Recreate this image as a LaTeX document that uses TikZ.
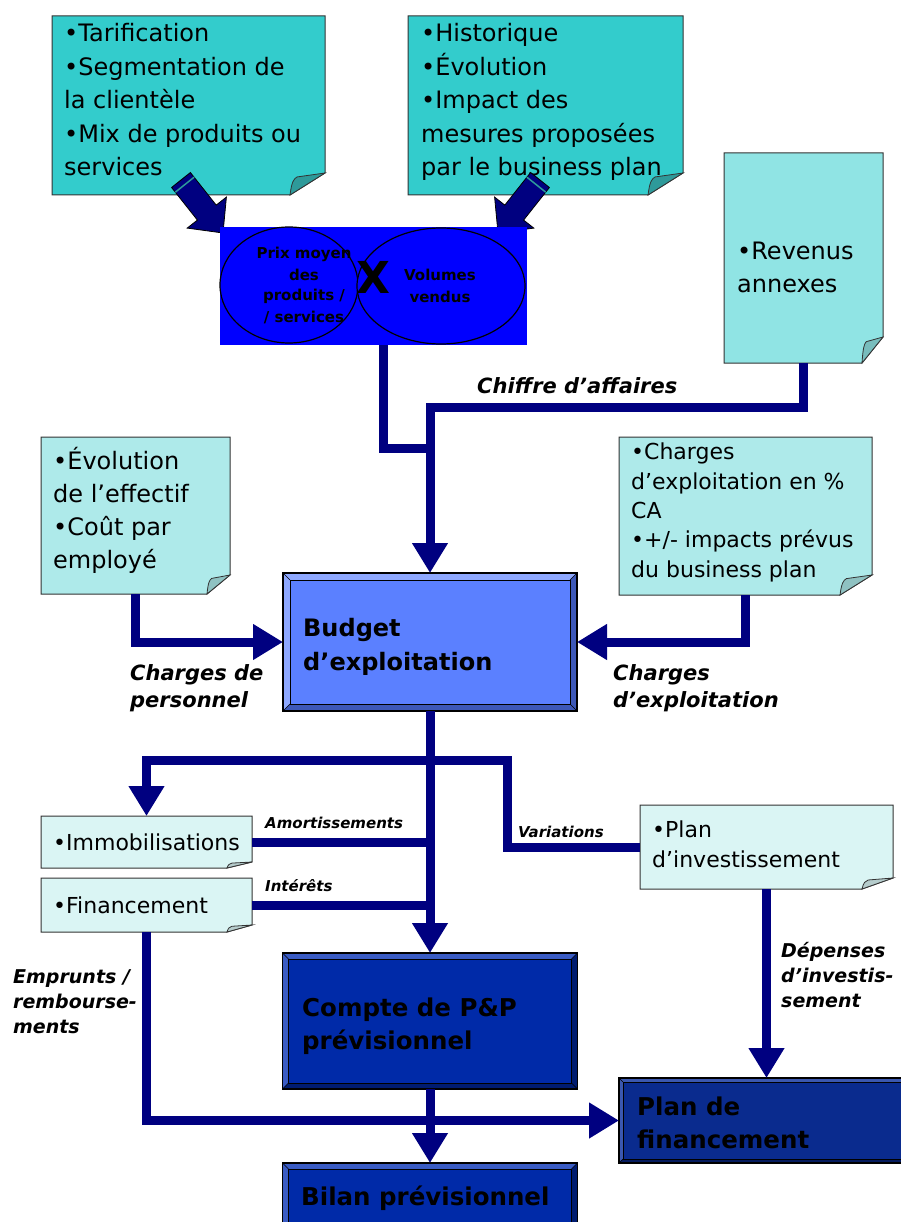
\documentclass[tikz,border=0pt]{standalone}
\usepackage{fontspec}
\setmainfont{DejaVu Sans}
\usetikzlibrary{arrows.meta}
\definecolor{navy}{HTML}{000080}
\definecolor{tealA}{HTML}{33CCCC}
\definecolor{tealAf}{HTML}{2E9A9A}
\definecolor{tealB}{HTML}{90E4E4}
\definecolor{tealBf}{HTML}{78BDBD}
\definecolor{tealC}{HTML}{AEEAEA}
\definecolor{tealCf}{HTML}{8FC2C2}
\definecolor{tealD}{HTML}{DAF5F4}
\definecolor{tealDf}{HTML}{B5CCCC}
\definecolor{pvblue}{HTML}{0000FF}
\definecolor{budgetfill}{HTML}{5B80FF}
\definecolor{budgetlt}{HTML}{8EA8FF}
\definecolor{budgetdk}{HTML}{3D58B8}
\definecolor{comptefill}{HTML}{002AA8}
\definecolor{comptelt}{HTML}{3A5CC4}
\definecolor{comptedk}{HTML}{001C70}
\definecolor{pfinfill}{HTML}{0A2B8E}
\definecolor{pfinlt}{HTML}{3B58B0}
\definecolor{pfindk}{HTML}{061C5E}

\newcommand\notebg[5]{%
  \filldraw[fill=#2, draw=black!80, line width=1pt]
    (#1.north west) -- (#1.north east) -- ([yshift=#5pt]#1.south east)
    -- ([xshift=-#4pt]#1.south east) -- (#1.south west) -- cycle;
  \filldraw[fill=#3, draw=black!80, line width=0.8pt]
    ([xshift=-#4pt]#1.south east) .. controls +(0.05*#4,-0.6*#5) and +(-0.1*#4,0.1*#5) .. ++(0.2*#4,-0.82*#5)
    -- ([yshift=#5pt]#1.south east) -- cycle;
}
\newcommand\bevel[4]{%
  \fill[#2] (#1.north west) -- (#1.north east) -- ([xshift=-#4pt,yshift=-#4pt]#1.north east) -- ([xshift=#4pt,yshift=-#4pt]#1.north west) -- cycle;
  \fill[#2] (#1.north west) -- ([xshift=#4pt,yshift=-#4pt]#1.north west) -- ([xshift=#4pt,yshift=#4pt]#1.south west) -- (#1.south west) -- cycle;
  \fill[#3] (#1.north east) -- (#1.south east) -- ([xshift=-#4pt,yshift=#4pt]#1.south east) -- ([xshift=-#4pt,yshift=-#4pt]#1.north east) -- cycle;
  \fill[#3] (#1.south west) -- (#1.south east) -- ([xshift=-#4pt,yshift=#4pt]#1.south east) -- ([xshift=#4pt,yshift=#4pt]#1.south west) -- cycle;
  \draw[line width=0.6pt] ([xshift=#4pt,yshift=-#4pt]#1.north west) rectangle ([xshift=-#4pt,yshift=#4pt]#1.south east);
  \draw[line width=0.6pt] (#1.north west) -- ([xshift=#4pt,yshift=-#4pt]#1.north west)
    (#1.north east) -- ([xshift=-#4pt,yshift=-#4pt]#1.north east)
    (#1.south west) -- ([xshift=#4pt,yshift=#4pt]#1.south west)
    (#1.south east) -- ([xshift=-#4pt,yshift=#4pt]#1.south east);
  \draw[line width=1.4pt] (#1.north west) rectangle (#1.south east);
}

\tikzset{
  anchorbox/.style={rectangle, inner sep=0pt, outer sep=0pt},
  conn/.style={draw=navy, line width=9pt},
  arr/.style={-{Triangle[length=30pt,width=34pt]}},
  bigtext/.style={anchor=base west, align=left, inner sep=0pt, font=\fontsize{24}{33.5}\selectfont},
  midtext/.style={anchor=base west, align=left, inner sep=0pt, font=\fontsize{22}{29.3}\selectfont},
  boxtext/.style={anchor=base west, align=left, inner sep=0pt, font=\bfseries\fontsize{24.5}{33.5}\selectfont},
  lbl/.style={anchor=base west, align=left, inner sep=0pt, font=\bfseries\itshape\fontsize{21}{27}\selectfont},
  lblmid/.style={anchor=base west, align=left, inner sep=0pt, font=\bfseries\itshape\fontsize{19}{24.8}\selectfont},
  lblsmall/.style={anchor=base west, align=left, inner sep=0pt, font=\bfseries\itshape\fontsize{15}{18}\selectfont},
  pvtext/.style={anchor=base, align=center, inner sep=0pt, font=\bfseries\fontsize{15}{21}\selectfont},
}

\begin{document}
\begin{tikzpicture}[x=1pt,y=-1pt]
\useasboundingbox (0,0) rectangle (901,1222);

% ---------- anchor nodes ----------
\node[anchorbox, minimum width=273pt, minimum height=179pt] (tl) at (188.5,105.5) {};
\node[anchorbox, minimum width=275pt, minimum height=179pt] (tm) at (545.5,105.5) {};
\node[anchorbox, minimum width=159pt, minimum height=210pt] (rev) at (803.5,258) {};
\node[anchorbox, minimum width=189pt, minimum height=157pt] (pers) at (135.5,515.5) {};
\node[anchorbox, minimum width=253pt, minimum height=158pt] (chg) at (745.5,516) {};
\node[anchorbox, minimum width=211pt, minimum height=52pt] (immo) at (146.5,842) {};
\node[anchorbox, minimum width=211pt, minimum height=54pt] (fin) at (146.5,905) {};
\node[anchorbox, minimum width=253pt, minimum height=84pt] (pinv) at (766.5,847) {};
\node[anchorbox, fill=budgetfill, minimum width=294pt, minimum height=138pt] (budget) at (430,642) {};
\node[anchorbox, fill=comptefill, minimum width=295pt, minimum height=136pt] (compte) at (430,1021) {};
\node[anchorbox, fill=comptefill, minimum width=295pt, minimum height=87pt] (bilan) at (430,1206.5) {};
\node[anchorbox, fill=pfinfill, minimum width=291pt, minimum height=85pt] (pfin) at (764.5,1120.5) {};

% ---------- notes ----------
\notebg{tl}{tealA}{tealAf}{35}{22}
\notebg{tm}{tealA}{tealAf}{35}{22}
\notebg{rev}{tealB}{tealBf}{21}{26}
\notebg{pers}{tealC}{tealCf}{23}{19}
\notebg{chg}{tealC}{tealCf}{32}{20}
\notebg{immo}{tealD}{tealDf}{25}{6}
\notebg{fin}{tealD}{tealDf}{25}{7}
\notebg{pinv}{tealD}{tealDf}{31}{11}

% (base anchor of a multi-line node = baseline of its last line)
\node[bigtext] (tltext) at (64,176) {•Tarification\\•Segmentation de\\la clientèle\\•Mix de produits ou\\services};
\node[bigtext] (tmtext) at (421,176) {•Historique\\•Évolution\\•Impact des\\mesures proposées\\par le business plan};
\node[bigtext] (revtext) at (737,293) {•Revenus\\annexes};
\node[bigtext, font=\fontsize{24}{32.8}\selectfont] (perstext) at (53,568) {•Évolution\\de l’effectif\\•Coût par\\employé};
\node[midtext] (chgtext) at (631,577) {•Charges\\d’exploitation en \%\\CA\\•+/- impacts prévus\\du business plan};
\node[midtext] (immotext) at (53,850) {•Immobilisations};
\node[midtext] (fintext) at (53,913) {•Financement};
\node[midtext] (pinvtext) at (652,867) {•Plan\\d’investissement};

% ---------- fat arrows ----------
\filldraw[fill=navy, draw=black, line width=0.8pt]
  (190.4,172.5) -- (216.2,205.1) -- (226.4,197.1) -- (223,233) -- (187.2,228.1) -- (197.4,220.1) -- (171.6,187.5) -- cycle;
\draw[tealAf, line width=1.5pt] (194.1,177.2) -- (175.3,192.2);
\filldraw[fill=navy, draw=black, line width=0.8pt]
  (549.4,187.5) -- (523.6,220.1) -- (533.8,228.1) -- (498,233) -- (494.6,197.1) -- (504.8,205.1) -- (530.6,172.5) -- cycle;
\draw[tealAf, line width=1.5pt] (545.7,192.2) -- (526.9,177.2);

% ---------- price x volume box ----------
\node[anchorbox, fill=pvblue, minimum width=307pt, minimum height=118pt] (pv) at (373.5,286) {};
\filldraw[fill=pvblue, draw=black, line width=1.2pt] (289,285) ellipse [x radius=69pt, y radius=58pt];
\filldraw[fill=pvblue, draw=black, line width=1.2pt] (441,286) ellipse [x radius=84pt, y radius=58pt];
\node[pvtext] (prix) at (304,322) {Prix moyen\\des\\produits /\\/ services};
\node[pvtext] (vol) at (440,302) {Volumes\\vendus};
\node[anchor=base, inner sep=0pt, font=\bfseries\fontsize{44}{44}\selectfont] (times) at (373,294) {X};

% ---------- boxes ----------
\bevel{budget}{budgetlt}{budgetdk}{7}
\bevel{compte}{comptelt}{comptedk}{6}
\bevel{bilan}{comptelt}{comptedk}{6}
\bevel{pfin}{pfinlt}{pfindk}{4}
\node[boxtext, font=\bfseries\fontsize{24}{34}\selectfont] (budgettext) at (303,670) {Budget\\d’exploitation};
\node[boxtext, font=\bfseries\fontsize{24.5}{33}\selectfont] (comptetext) at (302,1049) {Compte de P\&P\\prévisionnel};
\node[boxtext] (bilantext) at (301,1205) {Bilan prévisionnel};
\node[boxtext, font=\bfseries\fontsize{24.5}{33}\selectfont] (pfintext) at (637,1148) {Plan de\\financement};

% ---------- junction coordinates ----------
\coordinate (pvout) at (383,345);
\coordinate (cajoin) at (430,448);
\coordinate (rvjoin) at (430,407);
\coordinate (b1) at (430,760);
\coordinate (vr) at (507,800);

% ---------- connectors ----------
\draw[conn, arr] (rev.south) |- (rvjoin) -- (budget.north);
\draw[conn] (pvout) |- (cajoin);
\draw[conn, arr] (pers.south) |- (budget.west);
\draw[conn, arr] (chg.south) |- (budget.east);
\draw[conn, arr] (budget.south) -- (budget.south |- compte.north);
\draw[conn, arr] (b1) -| (immo.north);
\draw[conn] (pinv.west) -| (vr) |- (b1);
\draw[conn] (immo.east) -- (immo.east -| budget.south);
\draw[conn] (fin.east) -- (fin.east -| budget.south);
\draw[conn, arr] (pinv.south) -- (pinv.south |- pfin.north);
\draw[conn, arr] (fin.south) |- (pfin.west);
\draw[conn, arr] (compte.south) -- (bilan.north);

% ---------- connector labels ----------
\node[lbl] (lca) at (477,393) {Chiffre d’affaires};
\node[lbl] (lpers) at (130,707) {Charges de\\personnel};
\node[lbl] (lchg) at (613,707) {Charges\\d’exploitation};
\node[lblsmall] (lamort) at (265,828) {Amortissements};
\node[lblsmall] (lint) at (265,891) {Intérêts};
\node[lblsmall] (lvar) at (518,837) {Variations};
\node[lblmid] (ldep) at (781,1007) {Dépenses\\d’investis-\\sement};
\node[lblmid] (lemp) at (13,1033) {Emprunts /\\rembourse-\\ments};
\end{tikzpicture}
\end{document}
